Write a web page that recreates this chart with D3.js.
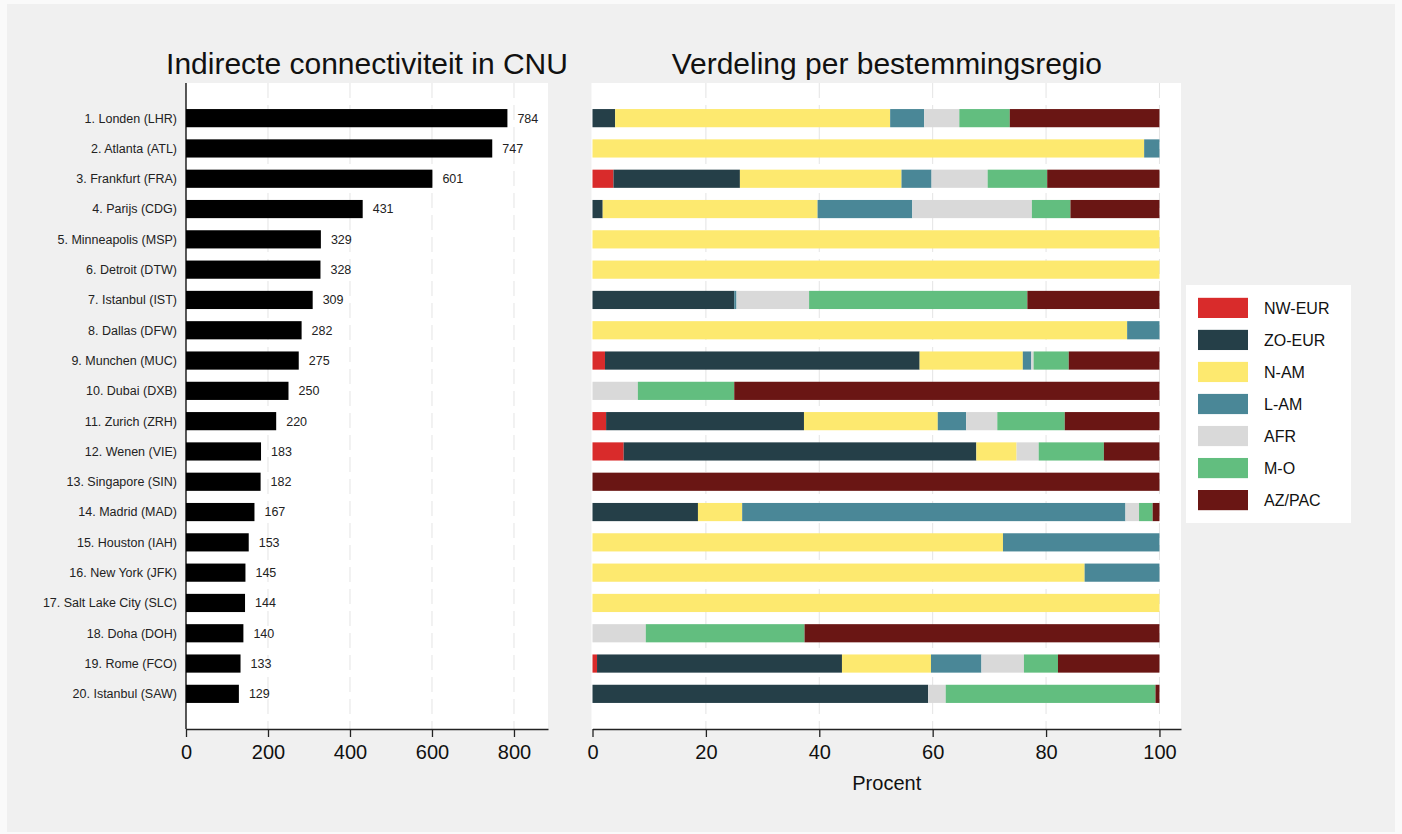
<!DOCTYPE html>
<html>
<head>
<meta charset="utf-8">
<script src="https://cdn.jsdelivr.net/npm/d3@7"></script>
<style>
  body { margin: 0; background: #fafafa; }
  svg { display: block; font-family: "Liberation Sans", Arial, sans-serif; }
</style>
</head>
<body>
<svg id="chart" width="1402" height="834"></svg>
<script>
// airports in rank order
const airports = [
  "1. Londen (LHR)", "2. Atlanta (ATL)", "3. Frankfurt (FRA)", "4. Parijs (CDG)",
  "5. Minneapolis (MSP)", "6. Detroit (DTW)", "7. Istanbul (IST)", "8. Dallas (DFW)",
  "9. Munchen (MUC)", "10. Dubai (DXB)", "11. Zurich (ZRH)", "12. Wenen (VIE)",
  "13. Singapore (SIN)", "14. Madrid (MAD)", "15. Houston (IAH)", "16. New York (JFK)",
  "17. Salt Lake City (SLC)", "18. Doha (DOH)", "19. Rome (FCO)", "20. Istanbul (SAW)"
];
const connectivity = [784, 747, 601, 431, 329, 328, 309, 282, 275, 250,
                      220, 183, 182, 167, 153, 145, 144, 140, 133, 129];

// share per destination region (%), same order as airports
const nwEur = [0, 0, 3.7, 0, 0, 0, 0, 0, 2.2, 0, 2.4, 5.5, 0, 0, 0, 0, 0, 0, 0.8, 0];
const zoEur = [4.0, 0, 22.3, 1.8, 0, 0, 25.0, 0, 55.5, 0, 34.9, 62.2, 0, 18.6, 0, 0, 0, 0, 43.2, 59.2];
const nAm   = [48.5, 97.3, 28.5, 37.9, 100, 100, 0, 94.3, 18.2, 0, 23.6, 7.1, 0, 7.8, 72.4, 86.8, 100, 0, 15.7, 0];
const lAm   = [6.0, 2.7, 5.3, 16.7, 0, 0, 0.4, 5.7, 1.5, 0, 5.0, 0, 0, 67.6, 27.6, 13.2, 0, 0, 8.9, 0];
const afr   = [6.2, 0, 9.9, 21.1, 0, 0, 12.8, 0, 0.4, 8.0, 5.5, 3.9, 0, 2.4, 0, 0, 0, 9.4, 7.5, 3.1];
const mO    = [8.9, 0, 10.5, 6.8, 0, 0, 38.5, 0, 6.2, 17.0, 11.9, 11.5, 0, 2.4, 0, 0, 0, 28.0, 6.0, 37.0];
const azPac = [26.4, 0, 19.8, 15.7, 0, 0, 23.3, 0, 16.0, 75.0, 16.7, 9.8, 100, 1.2, 0, 0, 0, 62.6, 17.9, 0.7];

const regions = ["NW-EUR", "ZO-EUR", "N-AM", "L-AM", "AFR", "M-O", "AZ/PAC"];
const regionColors = ["#d92b2b", "#253f48", "#fde96f", "#4a8797", "#d9d9d9", "#62be7f", "#6a1614"];

const leftTicks = [0, 200, 400, 600, 800];
const rightTicks = [0, 20, 40, 60, 80, 100];

const svg = d3.select("#chart");
const font = "\"Liberation Sans\", Arial, sans-serif";

// outer background frame
svg.append("rect")
    .attr("x", 7).attr("y", 4)
    .attr("width", 1388).attr("height", 828)
    .attr("fill", "#f0f0f0");

const plotTop = 83, plotBottom = 729;

const y = d3.scaleBand()
    .domain(airports)
    .range([plotTop, plotBottom])
    .paddingInner(0.4)
    .paddingOuter(0.86);

// ---------- left panel ----------
const xLeft = d3.scaleLinear().domain([0, 883]).range([186, 548]);

const left = svg.append("g");

left.append("rect")
    .attr("x", xLeft(0)).attr("y", plotTop)
    .attr("width", xLeft.range()[1] - xLeft(0))
    .attr("height", plotBottom - plotTop)
    .attr("fill", "#fff");

left.selectAll(".grid")
    .data(leftTicks.slice(1))
    .join("line")
    .attr("x1", d => xLeft(d)).attr("x2", d => xLeft(d))
    .attr("y1", plotTop).attr("y2", plotBottom)
    .attr("stroke", "#e4e4e4")
    .attr("stroke-width", 1)
    .attr("stroke-dasharray", "15,7");

left.selectAll(".bar")
    .data(airports)
    .join("rect")
    .attr("x", xLeft(0))
    .attr("y", d => y(d))
    .attr("width", (d, i) => xLeft(connectivity[i]) - xLeft(0))
    .attr("height", y.bandwidth())
    .attr("fill", "#000");

left.selectAll(".val")
    .data(airports)
    .join("text")
    .attr("x", (d, i) => xLeft(connectivity[i]) + 10)
    .attr("y", d => y(d) + y.bandwidth() / 2)
    .attr("dy", "0.35em")
    .attr("font-size", "12.5px")
    .attr("fill", "#222")
    .text((d, i) => connectivity[i]);

left.selectAll(".lab")
    .data(airports)
    .join("text")
    .attr("x", 177)
    .attr("y", d => y(d) + y.bandwidth() / 2)
    .attr("dy", "0.35em")
    .attr("text-anchor", "end")
    .attr("font-size", "12.5px")
    .attr("fill", "#222")
    .text(d => d);

// left y axis line
left.append("line")
    .attr("x1", xLeft(0)).attr("x2", xLeft(0))
    .attr("y1", plotTop).attr("y2", plotBottom)
    .attr("stroke", "#000").attr("stroke-width", 1.3);

const leftAxis = left.append("g")
    .attr("transform", `translate(0,${plotBottom})`)
    .call(d3.axisBottom(xLeft).tickValues(leftTicks).tickSize(8).tickPadding(8).tickSizeOuter(0));

left.append("text")
    .attr("x", (xLeft(0) + xLeft.range()[1]) / 2)
    .attr("y", 74)
    .attr("text-anchor", "middle")
    .attr("font-size", "30px")
    .attr("fill", "#111")
    .text("Indirecte connectiviteit in CNU");

// ---------- right panel ----------
const xRight = d3.scaleLinear().domain([0, 103.8]).range([592.5, 1181]);

const right = svg.append("g");

right.append("rect")
    .attr("x", xRight(0) - 1).attr("y", plotTop)
    .attr("width", xRight.range()[1] - xRight(0) + 1)
    .attr("height", plotBottom - plotTop)
    .attr("fill", "#fff");

right.selectAll(".grid")
    .data(rightTicks.slice(1))
    .join("line")
    .attr("x1", d => xRight(d)).attr("x2", d => xRight(d))
    .attr("y1", plotTop).attr("y2", plotBottom)
    .attr("stroke", "#e4e4e4")
    .attr("stroke-width", 1)
    .attr("stroke-dasharray", "15,7");

// build a table for d3.stack
const shares = [nwEur, zoEur, nAm, lAm, afr, mO, azPac];
const table = airports.map((a, i) => {
    let row = { airport: a };
    regions.forEach((r, j) => { row[r] = shares[j][i]; });
    return row;
});

const stacked = d3.stack().keys(regions)(table);

right.selectAll(".series")
    .data(stacked)
    .join("g")
    .attr("fill", (d, i) => regionColors[i])
    .selectAll("rect")
    .data(d => d.filter(s => s[1] - s[0] > 0))
    .join("rect")
    .attr("x", d => xRight(d[0]))
    .attr("y", d => y(d.data.airport))
    .attr("width", d => xRight(d[1]) - xRight(d[0]))
    .attr("height", y.bandwidth());

const rightAxis = right.append("g")
    .attr("transform", `translate(0,${plotBottom})`)
    .call(d3.axisBottom(xRight).tickValues(rightTicks).tickSize(8).tickPadding(8).tickSizeOuter(0));

right.append("text")
    .attr("x", (xRight(0) + xRight.range()[1]) / 2)
    .attr("y", 74)
    .attr("text-anchor", "middle")
    .attr("font-size", "30px")
    .attr("fill", "#111")
    .text("Verdeling per bestemmingsregio");

right.append("text")
    .attr("x", (xRight(0) + xRight.range()[1]) / 2)
    .attr("y", 790)
    .attr("text-anchor", "middle")
    .attr("font-size", "20px")
    .attr("fill", "#111")
    .text("Procent");

// axis styling
[leftAxis, rightAxis].forEach(ax => {
    ax.select(".domain").attr("stroke", "#222").attr("stroke-width", 1.3);
    ax.selectAll(".tick line").attr("stroke", "#222").attr("stroke-width", 1.3);
    ax.selectAll(".tick text")
        .attr("font-size", "20px")
        .attr("font-family", font)
        .attr("fill", "#111");
});

// ---------- legend ----------
const legend = svg.append("g").attr("transform", "translate(1186,285)");

legend.append("rect")
    .attr("width", 165).attr("height", 238)
    .attr("fill", "#fff");

const legendRow = d3.scaleBand().domain(regions).range([0, 238]).paddingInner(0.37).paddingOuter(0.4);

legend.selectAll(".sw")
    .data(regions)
    .join("rect")
    .attr("x", 12)
    .attr("y", d => legendRow(d))
    .attr("width", 50)
    .attr("height", legendRow.bandwidth())
    .attr("fill", (d, i) => regionColors[i]);

legend.selectAll(".lt")
    .data(regions)
    .join("text")
    .attr("x", 78)
    .attr("y", d => legendRow(d) + legendRow.bandwidth() / 2)
    .attr("dy", "0.36em")
    .attr("font-size", "16px")
    .attr("fill", "#111")
    .text(d => d);
</script>
</body>
</html>
